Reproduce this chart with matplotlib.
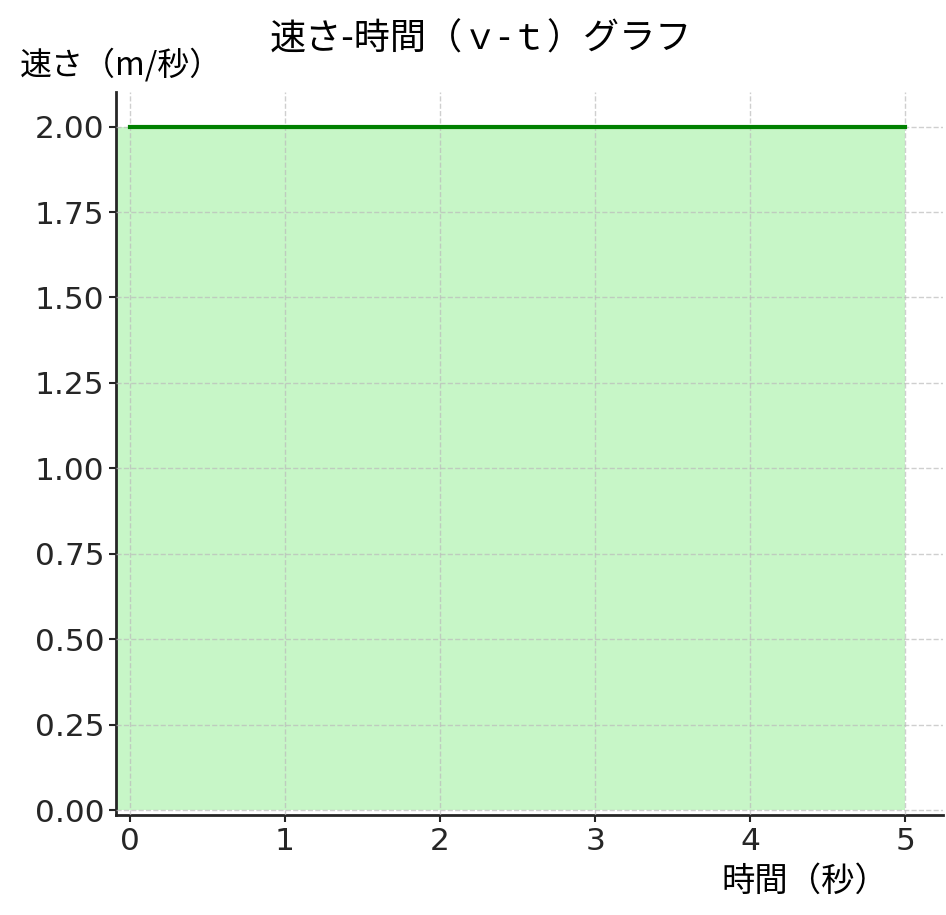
import matplotlib
matplotlib.use("Agg")
import matplotlib.pyplot as plt

# データ
time_s = [0, 5]
speed = [2, 2]
x_ticks = [0, 1, 2, 3, 4, 5]
y_ticks = [0.00, 0.25, 0.50, 0.75, 1.00, 1.25, 1.50, 1.75, 2.00]

plt.rcParams['font.family'] = ['DejaVu Sans', 'Noto Sans CJK JP']
cjk = ['Noto Sans CJK JP', 'DejaVu Sans']

fig, ax = plt.subplots(figsize=(9.46, 9.15), dpi=100)
fig.subplots_adjust(left=0.1226, right=0.997, top=0.899, bottom=0.109)

ax.set_xlim(-0.09, 5.245)
ax.set_ylim(-0.015, 2.10)

xl = ax.get_xlim()
ax.fill_between([xl[0], time_s[0]], [0, 0], [speed[0], speed[0]], color="lightgreen", alpha=0.5, lw=0)
ax.fill_between(time_s, 0, speed, color="lightgreen", alpha=0.5, lw=0)
ax.plot(time_s, speed, color="green", lw=3, zorder=4)

ax.set_xticks(x_ticks)
ax.set_yticks(y_ticks)
ax.set_yticklabels([f"{v:.2f}" for v in y_ticks])
ax.tick_params(labelsize=22.5, colors="#262626", length=5, width=1.5)

ax.grid(True, linestyle="--", color="#bbbbbb", alpha=0.7, lw=1)
ax.set_axisbelow(False)

for s in ["top", "right"]:
    ax.spines[s].set_visible(False)
for s in ["left", "bottom"]:
    ax.spines[s].set_linewidth(2)
    ax.spines[s].set_color("#262626")

ax.set_title("速さ-時間（ｖ-ｔ）グラフ", fontsize=26, family=cjk, pad=31, x=0.441)
ax.set_ylabel("速さ（m/秒）", fontsize=23, family=cjk, rotation=0)
ax.yaxis.set_label_coords(0.006, 1.015)
ax.set_xlabel("時間（秒）", fontsize=24, family=cjk)
ax.xaxis.set_label_coords(0.833, -0.067)

fig.savefig("out.png", dpi=100)
